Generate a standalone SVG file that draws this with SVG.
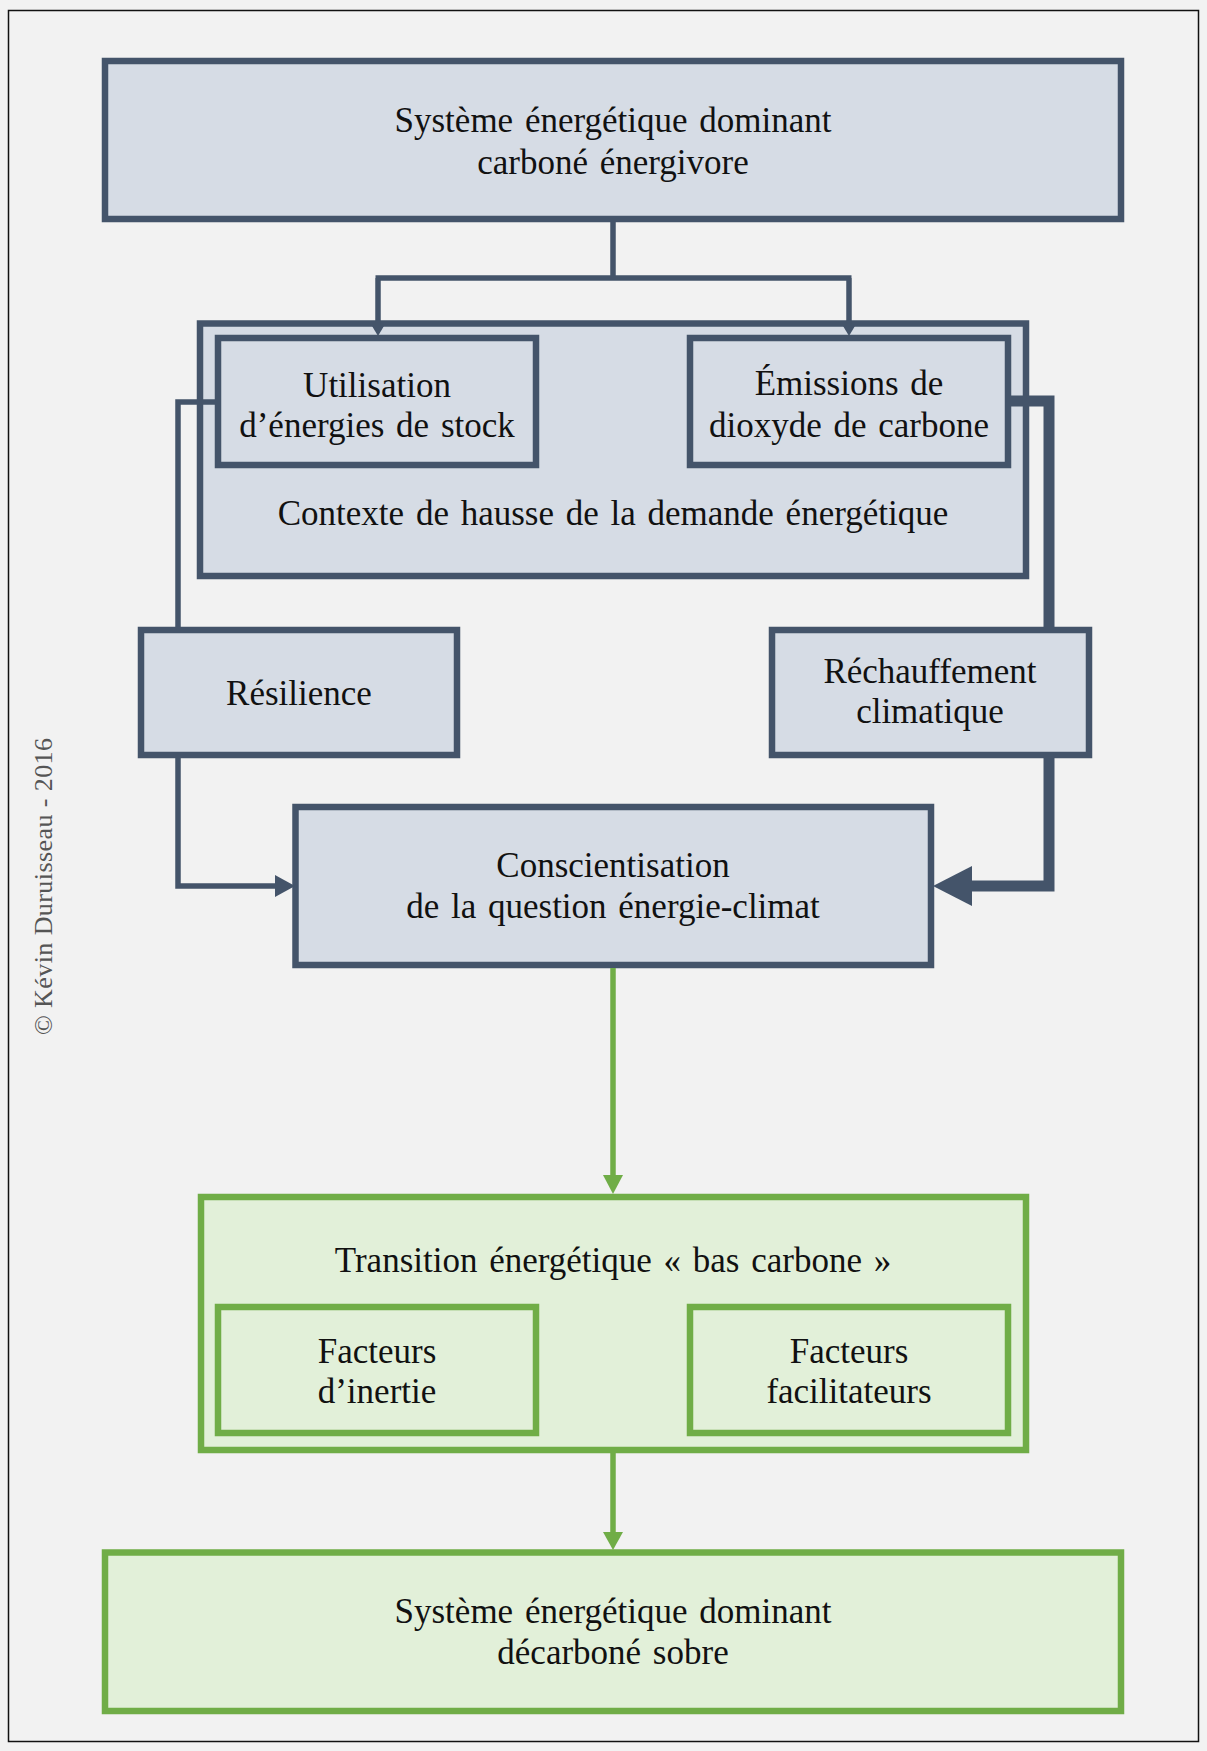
<svg xmlns="http://www.w3.org/2000/svg" width="1207" height="1751" viewBox="0 0 1207 1751">
<defs>
<style>
.bg{fill:#f2f2f2}
.frame{fill:none;stroke:#111;stroke-width:1.5}
.bbox{fill:#d6dce5;stroke:#44546a;stroke-width:6.5}
.gbox{fill:#e2f0d9;stroke:#70ad47;stroke-width:6.5}
.t{font-family:"Liberation Serif","Times New Roman",serif;font-size:35px;fill:#111;text-anchor:middle;word-spacing:3px}
.c{fill:none;stroke:#44546a;stroke-width:5.5}
.ct{fill:none;stroke:#44546a;stroke-width:11}
.cg{fill:none;stroke:#70ad47;stroke-width:5.5}
.ah{fill:#44546a}
.ahg{fill:#70ad47}
.copy{font-family:"Liberation Serif","Times New Roman",serif;font-size:26px;fill:#555}
</style>
</defs>
<rect class="bg" x="0" y="0" width="1207" height="1751"/>
<rect class="frame" x="8.5" y="10.5" width="1190" height="1731"/>
<text class="copy" transform="translate(52,1035) rotate(-90)" textLength="297" lengthAdjust="spacing">© Kévin Duruisseau  - 2016</text>

<g id="n-top">
<rect class="bbox" x="105" y="61" width="1016" height="158"/>
<text class="t" x="613" y="132">Système énergétique dominant</text>
<text class="t" x="613" y="174">carboné énergivore</text>
</g>
<g id="n-contexte">
<rect class="bbox" x="200" y="323.5" width="826" height="252.5"/>
<text class="t" x="613" y="525">Contexte de hausse de la demande énergétique</text>
</g>
<g id="n-utilisation">
<rect class="bbox" x="218" y="338" width="318" height="127"/>
<text class="t" x="377" y="397">Utilisation</text>
<text class="t" x="377" y="437">d’énergies de stock</text>
</g>
<g id="n-emissions">
<rect class="bbox" x="690" y="338" width="318" height="127"/>
<text class="t" x="849" y="395">Émissions de</text>
<text class="t" x="849" y="437">dioxyde de carbone</text>
</g>
<g id="n-resilience">
<rect class="bbox" x="141" y="630" width="316" height="125"/>
<text class="t" x="299" y="705">Résilience</text>
</g>
<g id="n-rechauffement">
<rect class="bbox" x="772" y="630" width="317" height="125"/>
<text class="t" x="930" y="683">Réchauffement</text>
<text class="t" x="930" y="723">climatique</text>
</g>
<g id="n-conscientisation">
<rect class="bbox" x="295.5" y="807" width="635.5" height="158"/>
<text class="t" x="613" y="877">Conscientisation</text>
<text class="t" x="613" y="918">de la question énergie-climat</text>
</g>
<g id="n-transition">
<rect class="gbox" x="201" y="1197" width="825" height="253"/>
<text class="t" x="613" y="1272">Transition énergétique « bas carbone »</text>
</g>
<g id="n-inertie">
<rect class="gbox" x="218" y="1307" width="318" height="126"/>
<text class="t" x="377" y="1363">Facteurs</text>
<text class="t" x="377" y="1403">d’inertie</text>
</g>
<g id="n-facilitateurs">
<rect class="gbox" x="690" y="1307" width="318" height="126"/>
<text class="t" x="849" y="1363">Facteurs</text>
<text class="t" x="849" y="1403">facilitateurs</text>
</g>
<g id="n-bottom">
<rect class="gbox" x="105" y="1552.5" width="1016" height="158.5"/>
<text class="t" x="613" y="1623">Système énergétique dominant</text>
<text class="t" x="613" y="1664">décarboné sobre</text>
</g>

<g id="connectors">
<path class="c" d="M613,222 V278 M375.5,278 H851.5 M378,278 V328 M849,278 V328"/>
<polygon class="ah" points="372,326 384,326 378,336"/>
<polygon class="ah" points="843,326 855,326 849,336"/>
<path class="c" d="M215,402 H178 V627"/>
<path class="c" d="M178,758 V886 H277"/>
<polygon class="ah" points="275,875 295,886 275,897"/>
<path class="ct" d="M1011,401 H1049 V627"/>
<path class="ct" d="M1049,758 V886 H970"/>
<polygon class="ah" points="972,866 933,886 972,906"/>
<path class="cg" d="M613,968 V1177"/>
<polygon class="ahg" points="603,1175 623,1175 613,1194"/>
<path class="cg" d="M613,1453 V1534"/>
<polygon class="ahg" points="603,1532 623,1532 613,1550"/>
</g>
</svg>
